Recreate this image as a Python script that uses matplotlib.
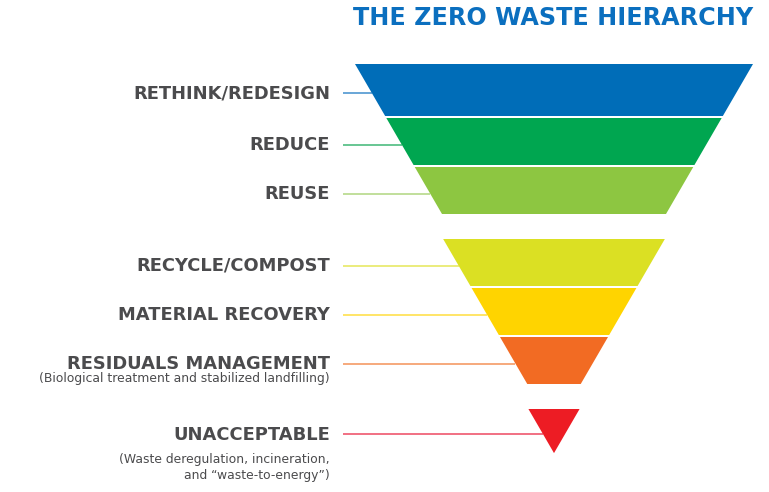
import matplotlib.pyplot as plt
from matplotlib.patches import Polygon

# hierarchy levels, top (most preferred) to bottom
levels = ["RETHINK/REDESIGN", "REDUCE", "REUSE", "RECYCLE/COMPOST",
          "MATERIAL RECOVERY", "RESIDUALS MANAGEMENT", "UNACCEPTABLE"]
notes = [[], [], [], [], [],
         ["(Biological treatment and stabilized landfilling)"],
         ["(Waste deregulation, incineration,", "and \u201cwaste-to-energy\u201d)"]]
group = [0, 0, 0, 1, 1, 1, 2]

colors = ["#006db8", "#00a650", "#8dc641", "#dbe023", "#ffd400", "#f26b23", "#ed1c24"]
line_colors = ["#5d9fd4", "#5cc18a", "#bcdc93", "#e9eb72", "#ffe35c", "#f6a272", "#f0647a"]
note_gap = [0, 0, 0, 0, 0, 15, 25]

# funnel geometry (pixel space)
cx, top, half0, slope = 554, 64, 199, 0.58
band = [52, 47, 47, 47, 47, 47, None]
sep, gap = 2, 23

fig = plt.figure(figsize=(7.69, 4.92), dpi=100, facecolor='w')
ax = fig.add_axes([0, 0, 1, 1])
ax.set_xlim(0, 769)
ax.set_ylim(492, 0)
ax.axis('off')

grey = "#4b4b4d"
s = 0
off = 0
for i in range(len(levels)):
    if i > 0 and group[i] != group[i - 1]:
        off += gap
    y0 = top + s + off
    w0 = half0 - slope * s
    h = band[i] if band[i] is not None else w0 / slope
    y1 = y0 + h
    w1 = max(half0 - slope * (s + h), 0)
    ax.add_patch(Polygon([(cx - w0, y0), (cx + w0, y0), (cx + w1, y1), (cx - w1, y1)],
                         closed=True, fc=colors[i], ec='none', zorder=2))
    ly = (y0 + y1) / 2 + 3
    xe = cx - (half0 - slope * (s + ly - y0))
    ax.plot([343, xe], [ly, ly], color=line_colors[i], lw=1.3, zorder=1,
            solid_capstyle='butt')
    ax.text(330, ly + 0.5, levels[i], ha='right', va='center', fontsize=12.9,
            fontweight='bold', color=grey, family='DejaVu Sans')
    for k, n in enumerate(notes[i]):
        ax.text(330, ly + note_gap[i] + 16 * k, n, ha='right', va='center',
                fontsize=8.9, color=grey, family='DejaVu Sans')
    s += h + sep

ax.text(753, 18, "THE ZERO WASTE HIERARCHY", ha='right', va='center',
        fontsize=17.2, fontweight='heavy', color="#0b6fbf", family='DejaVu Sans')

plt.savefig("out.png", dpi=100, facecolor='w')
